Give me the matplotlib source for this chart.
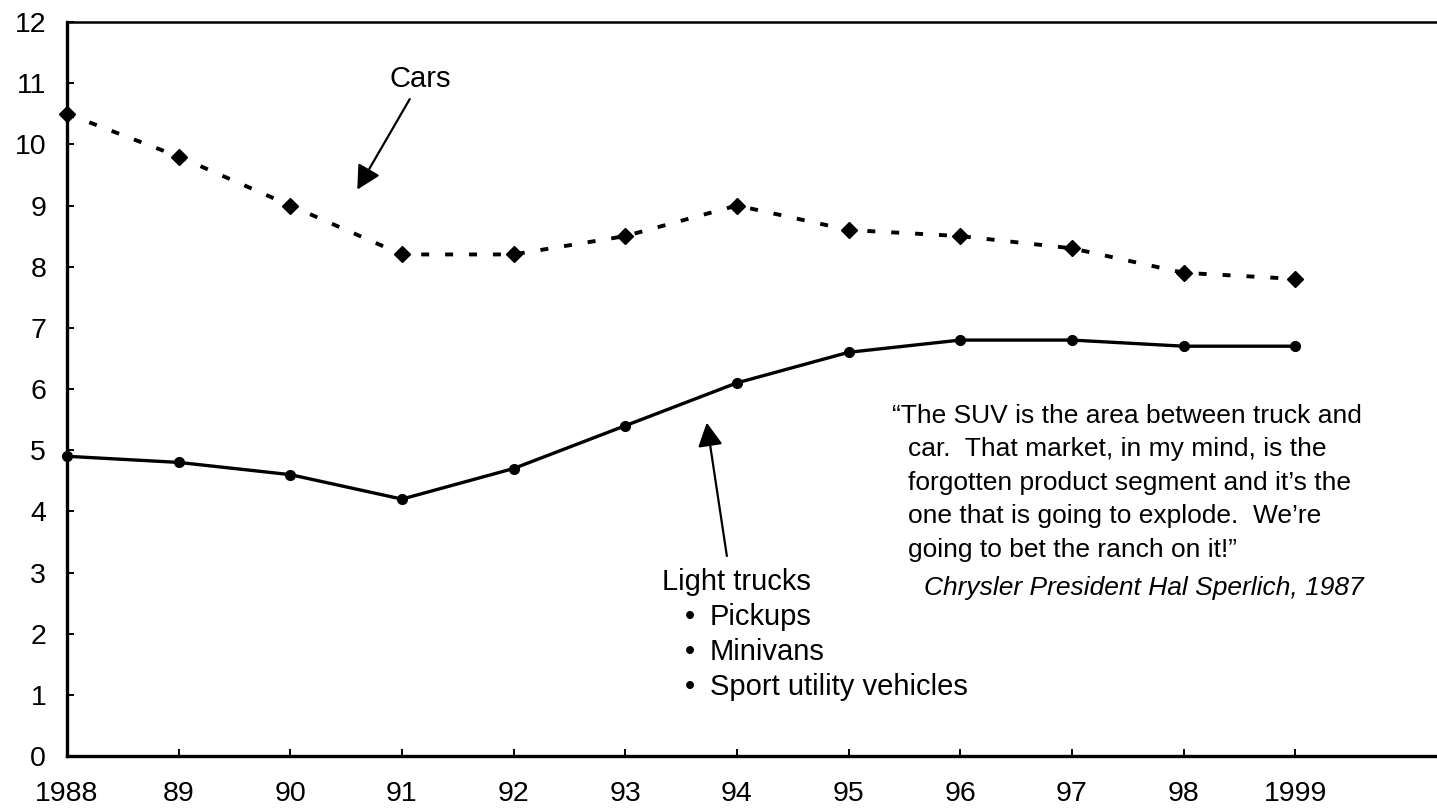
"""
Cars vs light trucks, 1988-1999, with the Sperlich SUV quote.
"""
import numpy as np
import matplotlib
matplotlib.use("Agg")
import matplotlib.pyplot as plt

plt.rcParams["font.family"] = ["Liberation Sans", "DejaVu Sans"]

YEARS = ["1988", "89", "90", "91", "92", "93", "94", "95", "96", "97", "98", "1999"]
CARS = [10.5, 9.8, 9.0, 8.2, 8.2, 8.5, 9.0, 8.6, 8.5, 8.3, 7.9, 7.8]
LIGHT_TRUCKS = [4.9, 4.8, 4.6, 4.2, 4.7, 5.4, 6.1, 6.6, 6.8, 6.8, 6.7, 6.7]

QUOTE_LINES = [
    "\u201cThe SUV is the area between truck and",
    "car.  That market, in my mind, is the",
    "forgotten product segment and it\u2019s the",
    "one that is going to explode.  We\u2019re",
    "going to bet the ranch on it!\u201d",
]
QUOTE_SOURCE = "Chrysler President Hal Sperlich, 1987"
TRUCK_TYPES = ["Pickups", "Minivans", "Sport utility vehicles"]

LABEL_FS = 21
QUOTE_FS = 19
TICK_FS = 20.5

fig = plt.figure(figsize=(14.37, 8.09), dpi=100)
ax = fig.add_axes([0.0466, 0.0655, 0.9534, 0.9073])

x = np.arange(len(YEARS))
ax.plot(x, CARS, color="black", lw=2.8, linestyle=(0, (2.05, 4.1)),
        dash_capstyle="butt", marker="D", ms=8.5, clip_on=False, zorder=3)
ax.plot(x, LIGHT_TRUCKS, color="black", lw=2.4, marker="o", ms=7,
        clip_on=False, zorder=3)

ax.set_xlim(0, 12.27)
ax.set_ylim(0, 12)
ax.set_xticks(x)
ax.set_xticklabels(YEARS)
ax.set_yticks(range(0, 13))
ax.tick_params(direction="in", length=5, width=1.4, labelsize=TICK_FS)
ax.tick_params(axis="x", pad=18)
ax.tick_params(axis="y", pad=15)

for side in ("left", "bottom"):
    ax.spines[side].set_linewidth(2.4)
ax.spines["top"].set_linewidth(1.8)
ax.spines["right"].set_visible(False)

arrow_style = dict(arrowstyle="-|>,head_length=0.8,head_width=0.42",
                   mutation_scale=18, color="black", lw=1.6,
                   shrinkA=0, shrinkB=0)

# cars label
ax.text(3.16, 10.93, "Cars", fontsize=LABEL_FS, ha="center", va="baseline")
ax.annotate("", xy=(2.60, 9.26), xytext=(3.07, 10.74), arrowprops=arrow_style)

# light trucks label with bullet list
ax.annotate("", xy=(5.73, 5.45), xytext=(5.91, 3.27), arrowprops=arrow_style)
ax.text(5.33, 2.717, "Light trucks", fontsize=LABEL_FS, ha="left", va="baseline")
for i, name in enumerate(TRUCK_TYPES):
    yy = 2.144 - i * 0.573
    ax.text(5.58, yy, "\u2022", fontsize=LABEL_FS, ha="center", va="baseline")
    ax.text(5.757, yy, name, fontsize=LABEL_FS, ha="left", va="baseline")

# quote
for i, line in enumerate(QUOTE_LINES):
    xx = 7.39 if i == 0 else 7.53
    ax.text(xx, 5.45 - i * 0.548, line, fontsize=QUOTE_FS, ha="left",
            va="baseline")
ax.text(7.68, 2.64, QUOTE_SOURCE, fontsize=QUOTE_FS, ha="left",
        va="baseline", style="italic")

fig.savefig("out.png", dpi=100)
